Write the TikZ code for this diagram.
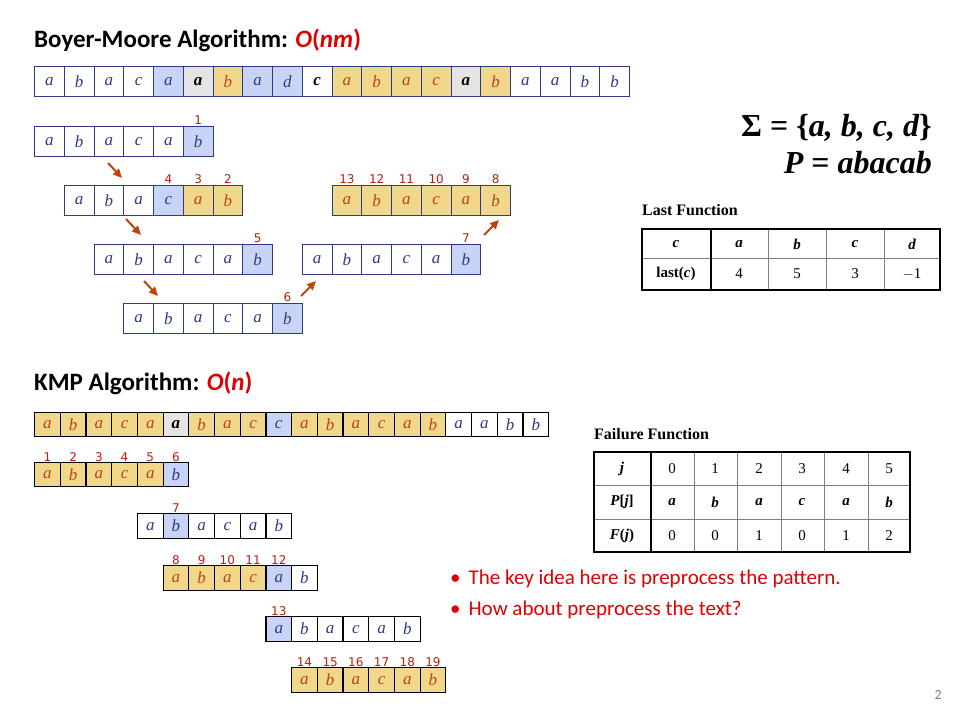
\documentclass[tikz,border=0pt]{standalone}
\usepackage{fontspec}
\setmainfont{Liberation Serif}
\newfontfamily\calib{Carlito}
\newfontfamily\numf{DejaVu Sans}
\usetikzlibrary{arrows.meta}
\definecolor{bm}{HTML}{2E3A87}
\definecolor{yel}{HTML}{F0D78C}
\definecolor{lb}{HTML}{C8D4F5}
\definecolor{gr}{HTML}{E4E4E4}
\definecolor{org}{HTML}{C0440A}
\definecolor{rnum}{HTML}{B8200A}
\definecolor{bul}{HTML}{E00000}
\tikzset{
 cell/.style={line width=1.2pt, inner sep=0pt, anchor=north west, font=\fontsize{17}{17}\selectfont\itshape},
 cw/.style={fill=white,text=bm},
 cy/.style={fill=yel,text=org},
 cb/.style={fill=lb,text=bm},
 cg/.style={fill=gr,text=black,font=\fontsize{17}{17}\selectfont\bfseries\itshape},
 ck/.style={fill=white,text=black,font=\fontsize{17}{17}\selectfont\bfseries\itshape},
 num/.style={anchor=south,text=rnum,inner sep=1pt,font=\numf\fontsize{12}{12}\selectfont},
 arr/.style={draw=org,line width=2pt,-{Triangle[length=9pt,width=8pt]}},
 tit/.style={anchor=base west,inner sep=0pt,font=\calib\bfseries\fontsize{25}{25}\selectfont},
 tcell/.style={font=\fontsize{15}{15}\selectfont,inner sep=0pt},
 thead/.style={font=\fontsize{15}{15}\selectfont\bfseries\itshape,inner sep=0pt},
 bull/.style={anchor=base west,text=bul,inner sep=0pt,font=\calib\fontsize{21}{21}\selectfont},
}
% name, x0, y0, cellw, cellh, list, border colour
\newcommand\prow[7]{%
 \foreach \l/\f [count=\i from 0] in {#6}{%
  \node[cell,c\f,draw=#7,minimum width=#4pt,minimum height=#5pt] (#1\i) at ({#2+\i*#4},#3) {\l};}}
\begin{document}
\begin{tikzpicture}[x=1pt,y=-1pt]
\useasboundingbox[fill=white] (0,0) rectangle (960,720);
% titles
\node[tit] (t1) at (34,47) {Boyer-Moore Algorithm: \textcolor{bul}{\textit{O}(\textit{nm})}};
\node[tit] (t2) at (34,390) {KMP Algorithm: \textcolor{bul}{\textit{O}(\textit{n})}};
% BM text
\prow{T}{34}{66}{29.75}{30}{a/w,b/w,a/w,c/w,a/b,a/g,b/y,a/b,d/b,c/k,a/y,b/y,a/y,c/y,a/g,b/y,a/w,a/w,b/w,b/w}{bm}
\prow{A}{34}{126}{29.75}{30}{a/w,b/w,a/w,c/w,a/w,b/b}{bm}
\prow{B}{63.75}{185}{29.75}{30}{a/w,b/w,a/w,c/b,a/y,b/y}{bm}
\prow{C}{93.5}{244}{29.75}{30}{a/w,b/w,a/w,c/w,a/w,b/b}{bm}
\prow{D}{123.25}{303}{29.75}{30}{a/w,b/w,a/w,c/w,a/w,b/b}{bm}
\prow{E}{301.75}{244}{29.75}{30}{a/w,b/w,a/w,c/w,a/w,b/b}{bm}
\prow{F}{331.5}{185}{29.75}{30}{a/y,b/y,a/y,c/y,a/y,b/y}{bm}
\node[num] (nA) at (A5.north) {1};
\foreach \c/\n in {3/4,4/3,5/2}{\node[num] (nB\c) at (B\c.north) {\n};}
\node[num] (nC) at (C5.north) {5};
\node[num] (nD) at (D5.north) {6};
\node[num] (nE) at (E5.north) {7};
\foreach \c/\n in {0/13,1/12,2/11,3/10,4/9,5/8}{\node[num] (nF\c) at (F\c.north) {\n};}
\coordinate (a1s) at (108,163); \coordinate (a1e) at (122,178);
\coordinate (a2s) at (126,219); \coordinate (a2e) at (141,235);
\coordinate (a3s) at (144,281); \coordinate (a3e) at (158,296);
\coordinate (a4s) at (301,296); \coordinate (a4e) at (316,281);
\coordinate (a5s) at (484,235); \coordinate (a5e) at (499,220);
\foreach \k in {1,...,5}{\draw[arr] (a\k s) -- (a\k e);}
% sigma / P
\node[anchor=base east,inner sep=0pt,font=\fontsize{32}{32}\selectfont\bfseries\itshape] (sig) at (932,136) {\upshape Σ = \{\itshape a, b, c, d\upshape\}};
\node[anchor=base east,inner sep=0pt,font=\fontsize{32}{32}\selectfont\bfseries\itshape] (pp) at (932,173) {P\upshape\ = \itshape abacab};
% Last function table
\node[anchor=base west,inner sep=0pt,font=\fontsize{16}{16}\selectfont\bfseries] (lf) at (642,215) {Last Function};
\draw[gray,line width=0.6pt] (642,258) -- (940,258);
\foreach \x in {768,826,884}{\draw[gray,line width=0.6pt] (\x,229) -- (\x,290);}
\draw[line width=2pt] (642,229) rectangle (940,290) (711,229) -- (711,290);
\foreach \x/\t [count=\i] in {676/c,739/a,797/b,855/c,912/d}{\node[thead] (lh\i) at (\x,244) {\t};}
\node[tcell] (lr0) at (676,274) {\textbf{last(}\textbf{\textit{c}}\textbf{)}};
\foreach \x/\t [count=\i] in {739/4,797/5,855/3,912/$-$1}{\node[tcell] (lr\i) at (\x,274) {\t};}
% KMP text
\prow{K}{34}{412}{25.7}{24}{a/y,b/y,a/y,c/y,a/y,a/g,b/y,a/y,c/y,c/b,a/y,b/y,a/y,c/y,a/y,b/y,a/w,a/w,b/w,b/w}{black}
\prow{P}{34}{462}{25.7}{24}{a/y,b/y,a/y,c/y,a/y,b/b}{black}
\prow{Q}{136.8}{513}{25.7}{25}{a/w,b/b,a/w,c/w,a/w,b/w}{black}
\prow{R}{162.5}{565}{25.7}{25}{a/y,b/y,a/y,c/y,a/b,b/w}{black}
\prow{S}{265.3}{616}{25.7}{25}{a/b,b/w,a/w,c/w,a/w,b/w}{black}
\prow{U}{291}{667}{25.7}{25}{a/y,b/y,a/y,c/y,a/y,b/y}{black}
\foreach \c [count=\n] in {0,...,5}{\node[num,inner sep=0pt] (nP\c) at (P\c.north) {\n};}
\node[num,inner sep=0pt] (nQ) at (Q1.north) {7};
\foreach \c/\n in {0/8,1/9,2/10,3/11,4/12}{\node[num,inner sep=0pt] (nR\c) at (R\c.north) {\n};}
\node[num,inner sep=0pt] (nS) at (S0.north) {13};
\foreach \c/\n in {0/14,1/15,2/16,3/17,4/18,5/19}{\node[num,inner sep=0pt] (nU\c) at (U\c.north) {\n};}
% Failure table
\node[anchor=base west,inner sep=0pt,font=\fontsize{16}{16}\selectfont\bfseries] (ff) at (594,439) {Failure Function};
\draw[gray,line width=0.6pt] (594,485) -- (910,485) (594,519) -- (910,519);
\foreach \x in {694,737,781,824,868}{\draw[gray,line width=0.6pt] (\x,452) -- (\x,552);}
\draw[line width=2pt] (594,452) rectangle (910,552) (651,452) -- (651,552);
\node[thead] (fj) at (622,469) {j};
\node[thead] (fp) at (622,502) {P\upshape[\itshape j\upshape]};
\node[thead] (fF) at (622,536) {F\upshape(\itshape j\upshape)};
\foreach \x/\j/\p/\f [count=\i] in {672/0/a/0,715/1/b/0,759/2/a/1,802/3/c/0,846/4/a/1,889/5/b/2}{
 \node[tcell] (fj\i) at (\x,469) {\j};
 \node[thead] (fp\i) at (\x,502) {\p};
 \node[tcell] (ff\i) at (\x,536) {\f};}
% bullets
\node[bull] (b1) at (450,584) {\textbullet\hspace{8pt}The key idea here is preprocess the pattern.};
\node[bull] (b2) at (450,615) {\textbullet\hspace{8pt}How about preprocess the text?};
\node[anchor=base east,inner sep=0pt,text=gray,font=\calib\fontsize{14}{14}\selectfont] (pg) at (942,699) {2};
\end{tikzpicture}
\end{document}
